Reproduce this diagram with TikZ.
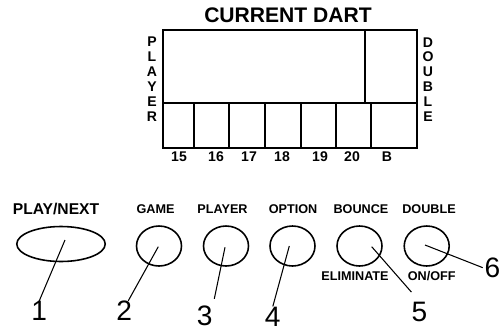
\documentclass[tikz,border=0pt]{standalone}
\usepackage{fontspec}
\setmainfont{Liberation Sans}
\usetikzlibrary{shapes.geometric}
\tikzset{
  disp/.style={line width=0.7pt},
  btn/.style={draw,ellipse,line width=0.9pt,minimum width=0.9cm,minimum height=0.8cm,inner sep=0pt},
  lbl/.style={font=\fontsize{7.2}{8}\selectfont\bfseries,inner sep=0pt},
  side/.style={font=\fontsize{8}{8.5}\selectfont\bfseries,align=center,inner sep=0pt},
  num/.style={font=\fontsize{16}{18}\selectfont,inner sep=0pt},
  lead/.style={line width=0.6pt}
}
\begin{document}
\begin{tikzpicture}[x=0.02cm,y=-0.02cm]
        \useasboundingbox (0,0) rectangle (502,331);
        \node[font=\fontsize{12}{14}\selectfont\bfseries] (title) at (288,15) {CURRENT DART};
        \draw[disp] (163,30) rectangle (417,148);
        \draw[disp] (163,103) -- (417,103) (365,30) -- (365,103);
        \foreach \x in {194,229,265,301,336,371} \draw[disp] (\x,103) -- (\x,148);
        \foreach \x/\t in {179/15,216/16,249/17,282/18,320/19,352/20,387/B} \node[side] (s\t) at (\x,157) {\t};
        \node[side] (player) at (152,79) {P\\L\\A\\Y\\E\\R};
        \node[side] (double) at (428,79.5) {D\\O\\U\\B\\L\\E};
        \node[btn,minimum width=1.77cm,minimum height=0.7cm] (b1) at (61,244) {};
        \foreach \i/\x in {2/159,3/226,4/292.5,5/359.5,6/426.7} \node[btn] (b\i) at (\x,246) {};
        \node[lbl,font=\fontsize{8.9}{10}\selectfont\bfseries] (l1) at (56,209) {PLAY/NEXT};
        \foreach \i/\x/\t in {2/155.5/GAME,3/222.5/PLAYER,4/293/OPTION,5/361/BOUNCE,6/429/DOUBLE} \node[lbl] (l\i) at (\x,209) {\t};
        \node[lbl] (l5b) at (355,276) {ELIMINATE};
        \node[lbl] (l6b) at (431.7,276) {ON/OFF};
        \node[num] (n1) at (39.2,311) {1};
        \node[num] (n2) at (124.2,311) {2};
        \node[num] (n3) at (204.7,316) {3};
        \node[num] (n4) at (272.8,316.5) {4};
        \node[num] (n5) at (419.5,311.5) {5};
        \node[num] (n6) at (492.5,268.3) {6};
        \coordinate (p1) at (65,240);
        \coordinate (p2) at (158.3,246.7);
        \coordinate (p3) at (225,247.3);
        \coordinate (p4) at (289.3,246);
        \coordinate (p5) at (371.7,246.7);
        \coordinate (p6) at (425,245);
        \draw[lead] (p1) -- (n1.north);
        \draw[lead] (p2) -- ([xshift=2.3pt]n2.north);
        \draw[lead,shorten >=4pt] (p3) -- (n3.north east);
        \draw[lead] (p4) -- (n4.north);
        \draw[lead,shorten >=7pt] (p5) -- (n5.north);
        \draw[lead,shorten >=1pt] (p6) -- (n6.west);
      \end{tikzpicture}
\end{document}
